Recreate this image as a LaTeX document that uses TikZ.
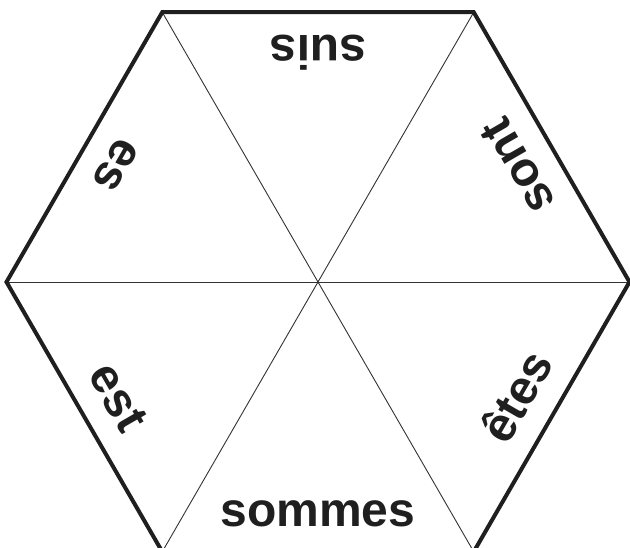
\documentclass[tikz,border=0pt]{standalone}
\usepackage{fontspec}
\setmainfont{Liberation Sans}
\begin{document}
\begin{tikzpicture}[x=1pt,y=1pt,
  outline/.style={line width=4pt,draw=black!88,line join=miter},
  spoke/.style={line width=0.9pt,draw=black!80},
  lbl/.style={anchor=base,inner sep=0pt,text=black!88,font=\fontsize{48}{48}\selectfont\bfseries}]
\useasboundingbox (-318,-266) rectangle (312,282);
\clip (-318,-266) rectangle (312,282);
\fill[white] (-318,-266) rectangle (312,282);
\coordinate (c) at (0,0);
\foreach \i in {0,...,5} {\coordinate (v\i) at (60*\i:311.5);}
\foreach \i in {0,1,2} {\pgfmathtruncatemacro\j{\i+3}\draw[spoke] (v\i) -- (v\j);}
\draw[outline] (v0) -- (v1) -- (v2) -- (v3) -- (v4) -- (v5) -- cycle;
\node[lbl,rotate=180] (suis) at (90:246) {suis};
\node[lbl,rotate=120] (sont) at (30:246) {sont};
\node[lbl,rotate=240] (es) at (150:246) {es};
\node[lbl,rotate=300] (est) at (210:246) {est};
\node[lbl,rotate=60] (etes) at (-30:246) {êtes};
\node[lbl,rotate=0] (sommes) at (-90:245) {sommes};
\end{tikzpicture}
\end{document}
